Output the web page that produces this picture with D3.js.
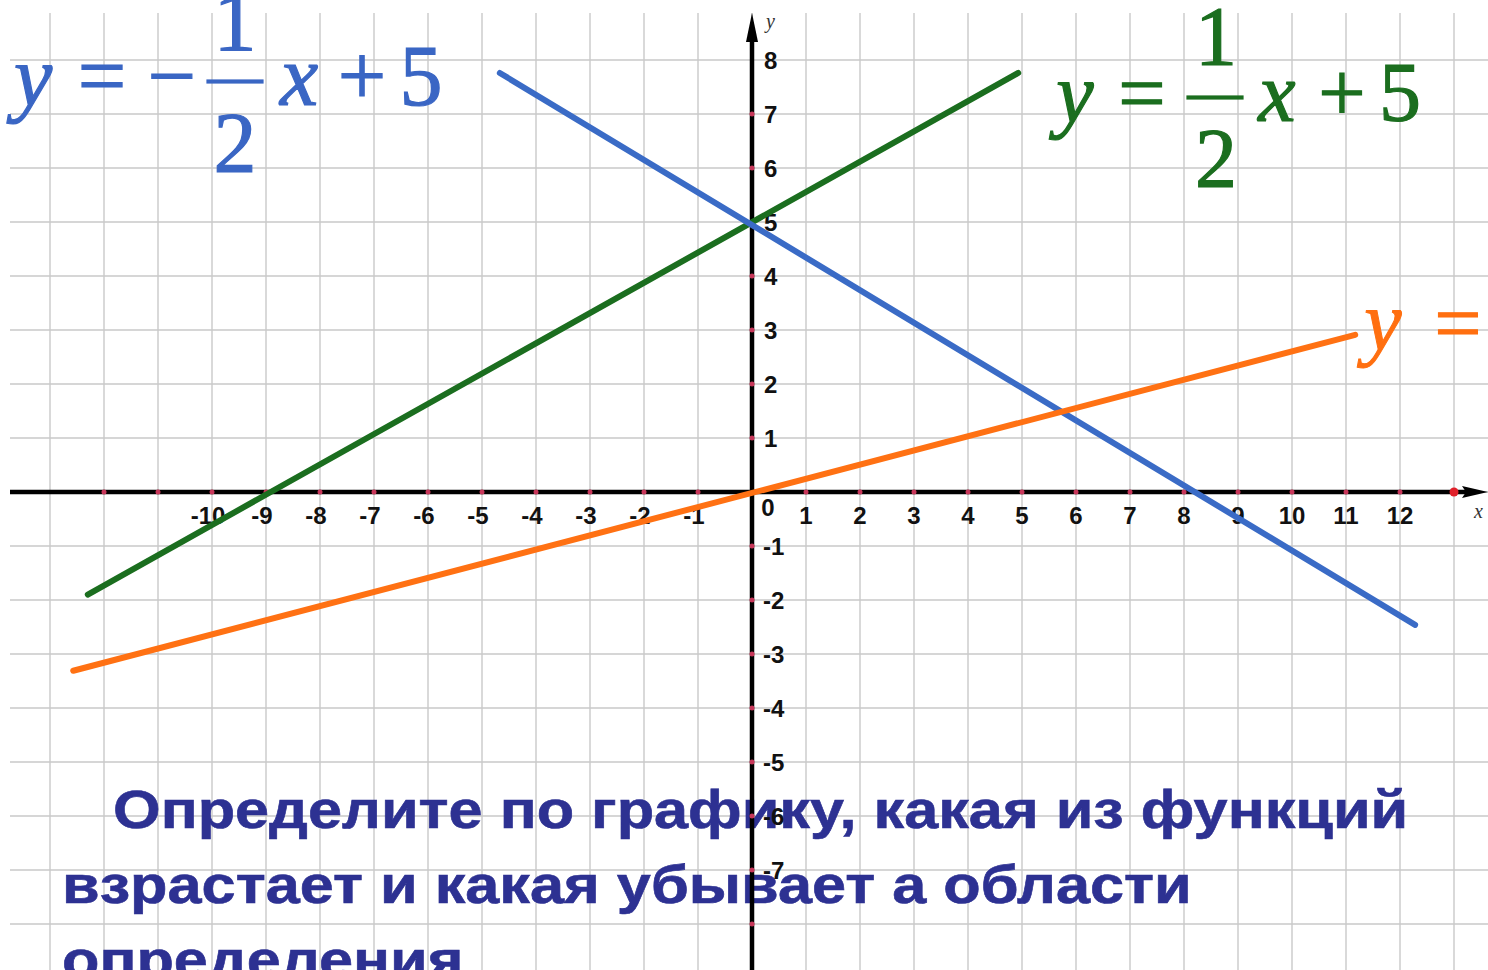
<!DOCTYPE html>
<html>
<head>
<meta charset="utf-8">
<script src="https://cdn.jsdelivr.net/npm/d3@7.9.0/dist/d3.min.js"></script>
<style>
  html, body { margin: 0; padding: 0; background: #fff; overflow: hidden; }
  svg { display: block; }
  .tick-label { font-family: 'Liberation Sans Narrow', 'Arial Narrow', 'Liberation Sans', sans-serif; font-weight: bold; font-size: 24px; fill: #111; }
  .eq { font-family: 'Liberation Serif', 'Times New Roman', serif; }
  .task { font-family: 'Liberation Sans', Arial, sans-serif; font-weight: bold; font-size: 53px; fill: #2d3192; }
</style>
</head>
<body>
<svg id="chart" width="1488" height="970"></svg>
<script>
// tick values and labels
const xDots = d3.range(-12, 13);
const xLabels = [-10, -9, -8, -7, -6, -5, -4, -3, -2, -1, 0, 1, 2, 3, 4, 5, 6, 7, 8, 9, 10, 11, 12];
const yDots = d3.range(-8, 8).filter(v => v !== 0);
const yLabels = [8, 7, 6, 5, 4, 3, 2, 1, -1, -2, -3, -4, -5, -6, -7];

// the three drawn lines, end points (in axis units)
const greenX = [-12.3, 4.93],  greenY = [-1.9, 7.76];
const blueX  = [-4.67, 12.28], blueY  = [7.76, -2.46];
const orangeX = [-12.57, 11.17], orangeY = [-3.31, 2.91];

const taskLines = [
  'Определите по графику, какая из функций',
  'взрастает и какая убывает а области',
  'определения'
];

const svg = d3.select('#chart');
const W = 1488, H = 970;

let x = d3.scaleLinear().domain([-14, 13]).range([752 - 14 * 54, 752 + 13 * 54]);
let y = d3.scaleLinear().domain([-9, 9]).range([492 + 9 * 54, 492 - 9 * 54]);

// grid
let grid = svg.append('g').attr('stroke', '#c9c9c9').attr('stroke-width', 1.4);
d3.range(-13, 14).forEach(v => {
  grid.append('line').attr('x1', x(v)).attr('x2', x(v)).attr('y1', 13).attr('y2', H);
});
d3.range(-9, 9).forEach(v => {
  if (y(v) < 20) return;
  grid.append('line').attr('x1', 10).attr('x2', W).attr('y1', y(v)).attr('y2', y(v));
});

// question text (sits under the axes), stretched a little sideways like the slide
let task = svg.append('g');
[[113, 828], [62, 903], [62, 978]].forEach(([tx, ty], i) => {
  task.append('text').attr('class', 'task')
    .attr('transform', `translate(${tx},${ty}) scale(1.156,1)`)
    .attr('stroke', '#2d3192').attr('stroke-width', 0.6)
    .text(taskLines[i]);
});

// axes
svg.append('line').attr('x1', 10).attr('x2', 1468).attr('y1', y(0)).attr('y2', y(0))
  .attr('stroke', '#000').attr('stroke-width', 4.5);
svg.append('path').attr('d', `M1488,${y(0)} L1462,${y(0) - 6} L1466,${y(0)} L1462,${y(0) + 6} Z`).attr('fill', '#000');
svg.append('line').attr('x1', x(0)).attr('x2', x(0)).attr('y1', 36).attr('y2', H)
  .attr('stroke', '#000').attr('stroke-width', 4.5);
svg.append('path').attr('d', `M${x(0)},13 L${x(0) + 6},42 L${x(0) - 6},42 Z`).attr('fill', '#000');

svg.append('text').attr('class', 'eq').attr('x', 1474).attr('y', 518)
  .attr('font-style', 'italic').attr('font-size', 20).attr('fill', '#333').text('x');
svg.append('text').attr('class', 'eq').attr('x', 766).attr('y', 28)
  .attr('font-style', 'italic').attr('font-size', 20).attr('fill', '#333').text('y');

// red tick dots
svg.append('g').selectAll('circle').data(xDots.filter(v => v !== 0)).join('circle')
  .attr('cx', d => x(d)).attr('cy', y(0)).attr('r', 2.5).attr('fill', '#c8375a');
svg.append('g').selectAll('circle').data(yDots).join('circle')
  .attr('cx', x(0)).attr('cy', d => y(d)).attr('r', 2.5).attr('fill', '#c8375a');
svg.append('circle').attr('cx', x(13)).attr('cy', y(0)).attr('r', 4.5).attr('fill', '#e0202a');

// tick labels
svg.append('g').selectAll('text').data(xLabels).join('text')
  .attr('class', 'tick-label')
  .attr('text-anchor', 'middle')
  .attr('x', d => d < 0 ? x(d) - 4 : (d === 0 ? x(d) + 16 : x(d)))
  .attr('y', d => d === 0 ? y(0) + 24 : y(0) + 32)
  .text(d => d);
svg.append('g').selectAll('text').data(yLabels).join('text')
  .attr('class', 'tick-label')
  .attr('x', d => d < 0 ? x(0) + 11 : x(0) + 12)
  .attr('y', d => y(d) + 9)
  .text(d => d);

// function lines
const lines = [
  { xs: greenX, ys: greenY, color: '#1b6e1f' },
  { xs: blueX, ys: blueY, color: '#3a6bc6' },
  { xs: orangeX, ys: orangeY, color: '#ff7113' }
];
let lineGen = d3.line().x(d => x(d[0])).y(d => y(d[1]));
lines.forEach(l => {
  svg.append('path')
    .attr('d', lineGen(d3.zip(l.xs, l.ys)))
    .attr('stroke', l.color).attr('stroke-width', 6).attr('fill', 'none')
    .attr('stroke-linecap', 'round');
});

// equation labels
function glyph(g, txt, cx, by, size, italic) {
  g.append('text').attr('class', 'eq')
    .attr('x', cx).attr('y', by)
    .attr('text-anchor', 'middle')
    .attr('font-size', size)
    .attr('font-style', italic ? 'italic' : 'normal')
    .text(txt);
}

let blue = svg.append('g').attr('fill', '#3a66c4').attr('stroke', '#3a66c4').attr('stroke-width', 1.2);
glyph(blue, 'y', 33, 105, 86, true);
glyph(blue, '=', 102, 105, 86, false);
glyph(blue, '−', 172, 105, 86, false);
blue.append('rect').attr('x', 207).attr('y', 80).attr('width', 56).attr('height', 3);
glyph(blue, '1', 235, 50, 86, false);
glyph(blue, '2', 235, 172, 86, false);
glyph(blue, 'x', 299, 105, 86, true);
glyph(blue, '+', 362, 105, 86, false);
glyph(blue, '5', 421, 105, 86, false);

let green = svg.append('g').attr('fill', '#1b6e1f').attr('stroke', '#1b6e1f').attr('stroke-width', 1.2);
glyph(green, 'y', 1075, 122, 84, true);
glyph(green, '=', 1142, 122, 84, false);
green.append('rect').attr('x', 1187).attr('y', 96).attr('width', 56).attr('height', 3);
glyph(green, '1', 1216, 65, 84, false);
glyph(green, '2', 1216, 187, 84, false);
glyph(green, 'x', 1277, 121, 84, true);
glyph(green, '+', 1342, 121, 84, false);
glyph(green, '5', 1400, 121, 84, false);

let orange = svg.append('g').attr('fill', '#ff6f10').attr('stroke', '#ff6f10').attr('stroke-width', 1);
glyph(orange, 'y', 1383, 350, 84, true);
glyph(orange, '=', 1458, 352, 84, false);
</script>
</body>
</html>
